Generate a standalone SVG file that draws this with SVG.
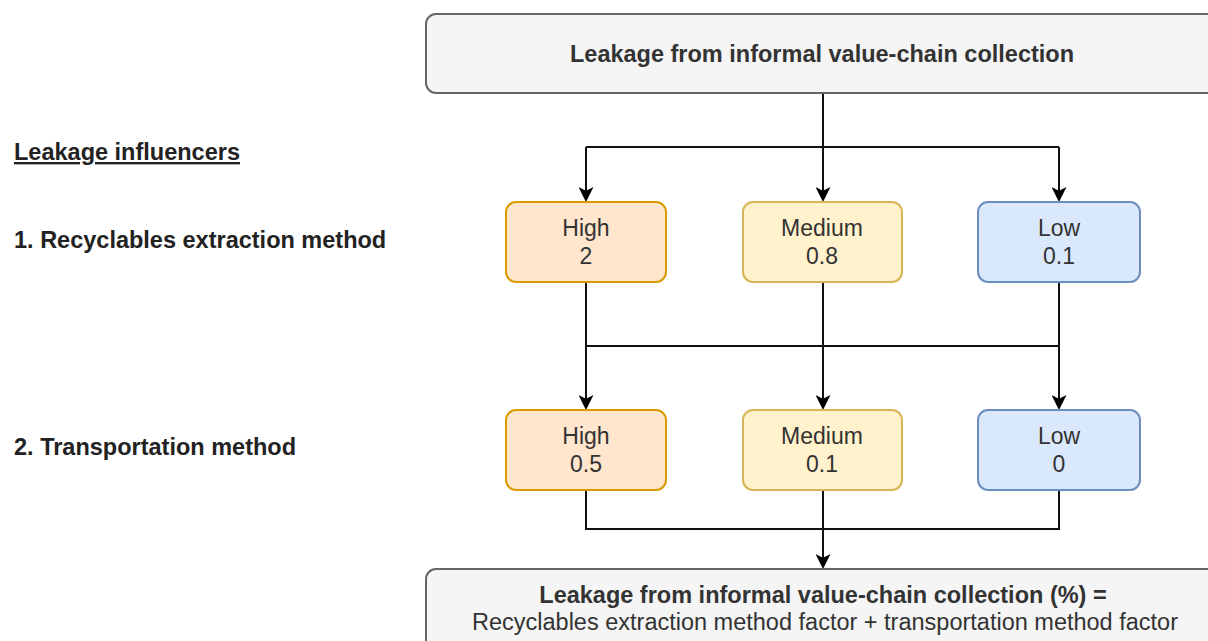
<svg xmlns="http://www.w3.org/2000/svg" width="1208" height="641" viewBox="0 0 1208 641">
<defs>
<style>
text{font-family:"Liberation Sans",Arial,sans-serif;}
.lbl{font-size:23.5px;font-weight:bold;fill:#222;}
.main{fill:#f5f5f5;stroke:#666;stroke-width:2;}
.mt{font-size:23.5px;fill:#333;text-anchor:middle;}
.hi{fill:#ffe6cc;stroke:#d79b00;stroke-width:2;}
.me{fill:#fff2cc;stroke:#d6b656;stroke-width:2;}
.lo{fill:#dae8fc;stroke:#6c8ebf;stroke-width:2;}
.nt{font-size:23px;fill:#333;text-anchor:middle;}
.edge{fill:none;stroke:#111;stroke-width:2;}
.arr{marker-end:url(#ah);}
</style>
<marker id="ah" markerUnits="userSpaceOnUse" viewBox="0 0 15 15" markerWidth="15" markerHeight="15" refX="9" refY="7.5" orient="auto">
<path d="M0,0 L15,7.5 L0,15 L3.8,7.5 Z" fill="#000"/>
</marker>
</defs>
<rect width="1208" height="641" fill="#fff"/>

<g id="labels">
<text class="lbl" x="14" y="160" text-decoration="underline">Leakage influencers</text>
<text class="lbl" x="14" y="248">1. Recyclables extraction method</text>
<text class="lbl" x="14" y="455">2. Transportation method</text>
</g>

<g id="connectors">
<path class="edge" d="M586,147 H1059"/>
<path class="edge arr" d="M823,93 V196"/>
<path class="edge arr" d="M586,147 V196"/>
<path class="edge arr" d="M1059,147 V196"/>
<path class="edge" d="M586,346 H1059"/>
<path class="edge arr" d="M586,282 V404"/>
<path class="edge arr" d="M823,282 V404"/>
<path class="edge arr" d="M1059,282 V404"/>
<path class="edge" d="M586,490 V529 H1059 V490"/>
<path class="edge arr" d="M823,490 V563"/>
</g>

<g id="top">
<rect class="main" x="426" y="14" width="800" height="79" rx="10"/>
<text class="mt" x="822" y="62" font-weight="bold">Leakage from informal value-chain collection</text>
</g>

<g id="t1-high">
<rect class="hi" x="506" y="202" width="160" height="80" rx="10"/>
<text class="nt" x="586" y="236">High</text>
<text class="nt" x="586" y="264">2</text>
</g>
<g id="t1-medium">
<rect class="me" x="743" y="202" width="159" height="80" rx="10"/>
<text class="nt" x="822" y="236">Medium</text>
<text class="nt" x="822" y="264">0.8</text>
</g>
<g id="t1-low">
<rect class="lo" x="978" y="202" width="162" height="80" rx="10"/>
<text class="nt" x="1059" y="236">Low</text>
<text class="nt" x="1059" y="264">0.1</text>
</g>

<g id="t2-high">
<rect class="hi" x="506" y="410" width="160" height="80" rx="10"/>
<text class="nt" x="586" y="444">High</text>
<text class="nt" x="586" y="472">0.5</text>
</g>
<g id="t2-medium">
<rect class="me" x="743" y="410" width="159" height="80" rx="10"/>
<text class="nt" x="822" y="444">Medium</text>
<text class="nt" x="822" y="472">0.1</text>
</g>
<g id="t2-low">
<rect class="lo" x="978" y="410" width="162" height="80" rx="10"/>
<text class="nt" x="1059" y="444">Low</text>
<text class="nt" x="1059" y="472">0</text>
</g>

<g id="result">
<rect class="main" x="426" y="569" width="800" height="90" rx="10"/>
<text class="mt" x="823" y="603" font-weight="bold">Leakage from informal value-chain collection (%) =</text>
<text class="mt" x="825" y="630">Recyclables extraction method factor + transportation method factor</text>
</g>
</svg>
